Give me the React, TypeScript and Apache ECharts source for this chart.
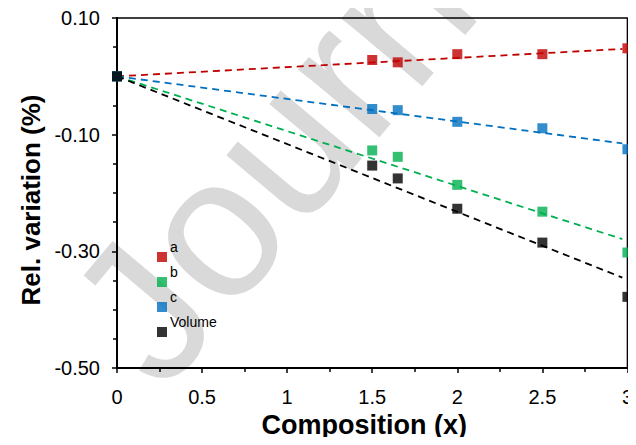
import React, { useEffect, useRef } from "react";
import * as echarts from "echarts";

const compositionX = [0, 1.5, 1.65, 2, 2.5, 3];
const aValues = [0, 0.028, 0.024, 0.038, 0.038, 0.048];
const bValues = [0, -0.127, -0.138, -0.186, -0.232, -0.302];
const cValues = [0, -0.056, -0.058, -0.078, -0.089, -0.125];
const volumeValues = [0, -0.153, -0.175, -0.227, -0.285, -0.378];

const trendX = [0, 2.97];
const aTrend = [0, 0.047];
const bTrend = [0, -0.279];
const cTrend = [0, -0.115];
const volumeTrend = [0, -0.345];

const seriesNames = ["a", "b", "c", "Volume"];
const seriesColors = ["#C00000", "#00B050", "#0070C0", "#000000"];

const FONT = "'Liberation Sans', Arial, sans-serif";

export default function App() {
  const ref = useRef<HTMLDivElement>(null);
  useEffect(() => {
    if (!ref.current) return;
    const chart = echarts.init(ref.current, undefined, { renderer: "svg" });
    const values = [aValues, bValues, cValues, volumeValues];
    const trends = [aTrend, bTrend, cTrend, volumeTrend];
    const pair = (xs: number[], ys: number[]) => xs.map((x, i) => [x, ys[i]]);
    const trendSeries = trends.map((t, i) => ({
      name: seriesNames[i] + " trend",
      type: "line",
      data: pair(trendX, t),
      showSymbol: false,
      symbol: "none",
      silent: true,
      lineStyle: { color: seriesColors[i], width: 1.8, type: [7, 5] },
      z: 2,
    }));
    const scatterSeries = values.map((v, i) => ({
      name: seriesNames[i],
      type: "scatter",
      data: pair(compositionX, v),
      symbol: "rect",
      symbolSize: 10,
      itemStyle: { color: seriesColors[i] },
      z: 3,
    }));
    chart.setOption({
      animation: false,
      backgroundColor: "#fff",
      textStyle: { fontFamily: FONT },
      graphic: {
        elements: [
          {
            type: "text",
            x: 110,
            y: 350,
            rotation: (50 * Math.PI) / 180,
            z: -10,
            silent: true,
            style: {
              text: "Journal Pre-proof",
              fontSize: 200,
              fontFamily: FONT,
              fill: "#d9d9d9",
              align: "left",
              verticalAlign: "middle",
            },
          },
        ],
      },
      grid: {
        left: 117,
        right: 7,
        top: 18,
        bottom: 77,
        show: true,
        borderColor: "#000",
        borderWidth: 1.5,
        backgroundColor: "transparent",
      },
      legend: {
        data: seriesNames,
        orient: "vertical",
        left: 157,
        top: 237,
        padding: 0,
        itemWidth: 10,
        itemHeight: 10,
        itemGap: -15,
        icon: "rect",
        formatter: (name: string) => name + "\n ",
        textStyle: {
          fontSize: 14,
          lineHeight: 20,
          color: "#000",
          fontFamily: FONT,
          padding: [0, 0, 0, -2],
        },
      },
      xAxis: {
        type: "value",
        min: 0,
        max: 3,
        interval: 0.5,
        name: "Composition (x)",
        nameLocation: "middle",
        nameGap: 41,
        nameTextStyle: {
          fontSize: 27,
          fontWeight: "bold",
          color: "#000",
          fontFamily: FONT,
          padding: [0, 16, 0, 0],
        },
        axisLine: { show: true, onZero: false, lineStyle: { color: "#000", width: 2 } },
        axisTick: { show: true, length: 5, lineStyle: { color: "#000", width: 1.5 } },
        minorTick: { show: true, splitNumber: 2, length: 4, lineStyle: { color: "#000", width: 1.5 } },
        splitLine: { show: false },
        axisLabel: { fontSize: 20, color: "#000", margin: 19, fontFamily: FONT },
      },
      yAxis: {
        type: "value",
        min: -0.5,
        max: 0.1,
        interval: 0.2,
        name: "Rel. variation (%)",
        nameLocation: "middle",
        nameGap: 73,
        nameTextStyle: {
          fontSize: 26,
          fontWeight: "bold",
          color: "#000",
          fontFamily: FONT,
          padding: [0, 14, 0, 0],
        },
        axisLine: { show: true, onZero: false, lineStyle: { color: "#000", width: 2 } },
        axisTick: { show: true, length: 5, lineStyle: { color: "#000", width: 1.5 } },
        minorTick: { show: true, splitNumber: 4, length: 4, lineStyle: { color: "#000", width: 1.5 } },
        splitLine: { show: false },
        axisLabel: {
          fontSize: 20,
          color: "#000",
          margin: 17,
          fontFamily: FONT,
          formatter: (v: number) => v.toFixed(2),
        },
      },
      series: [...trendSeries, ...scatterSeries],
    });
    return () => chart.dispose();
  }, []);
  return <div ref={ref} style={{ width: 636, height: 445, margin: -8 }} />;
}
